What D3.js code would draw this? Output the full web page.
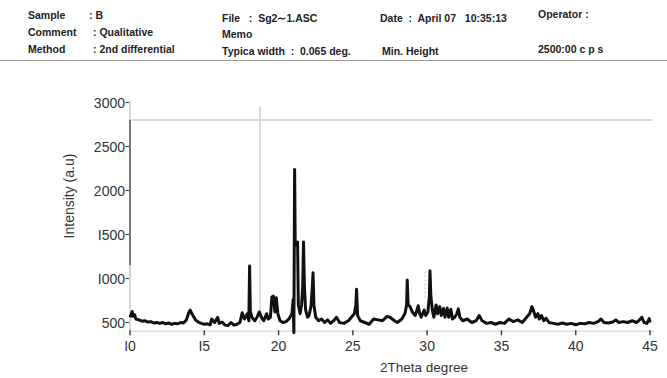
<!DOCTYPE html>
<html lang="en">
<head>
    <title>XRD pattern - Sample B</title>
    <style>
        body, html { margin: 0; height: 100%; overflow: hidden; background: #fff; }
        svg { display: block; }
        .hdr { font: bold 10.5px "Liberation Sans", Arial, sans-serif; fill: #222; }
        .tick-label { font: 14px "Liberation Sans", Arial, sans-serif; fill: #333; }
        .axis-title { font: 14px "Liberation Sans", Arial, sans-serif; fill: #333; }
    </style>
    <script src="https://d3js.org/d3.v7.min.js"></script>
</head>
<body>
    <svg></svg>

    <script>
        // header block: [text, x, y]
        const headerText = [
            ["Sample", 28, 19], [": B", 89, 19],
            ["Comment", 28, 36], [": Qualitative", 93, 36],
            ["Method", 28, 53], [": 2nd differential", 93, 53],
            ["File   :  Sg2\u223C1.ASC", 222, 22],
            ["Memo", 222, 38],
            ["Typica width  :  0.065 deg.", 222, 55],
            ["Date  :  April 07   10:35:13", 380, 22],
            ["Min. Height", 382, 55],
            ["Operator :", 538, 18],
            ["2500:00 c p s", 538, 53]
        ];

        // axis ticks
        const xTicks = [10, 15, 20, 25, 30, 35, 40, 45];
        const xTickLabels = ["I0", "I5", "20", "25", "30", "35", "40", "45"];
        const yTicks = [500, 1000, 1500, 2000, 2500, 3000];
        const yTickLabels = ["500", "I000", "I500", "2000", "2500", "3000"];

        // reference guides drawn on the chart
        const hGuide = 2800;            // horizontal grey line
        const vGuide = [18.75, 2960];   // vertical grey line (2theta, top)
        const dashGuide = [29.86, 760, 1080];
        const startMark = [10, 2800, 1150];

        const theta = [
            10.0, 10.1, 10.15, 10.2, 10.3, 10.4, 10.6, 10.8, 11.0, 11.2, 11.4, 11.6, 11.8, 12.0, 12.2, 12.4, 12.6, 12.8,
            13.0, 13.2, 13.4, 13.6, 13.8, 13.95, 14.05, 14.2, 14.4, 14.6, 14.8, 15.0, 15.2, 15.4, 15.5, 15.7, 15.9, 16.0,
            16.2, 16.4, 16.6, 16.8, 17.0, 17.2, 17.4, 17.55, 17.7, 17.9, 18.0, 18.05, 18.1, 18.2, 18.4, 18.55, 18.7, 18.85,
            19.0, 19.2, 19.3, 19.45, 19.55, 19.65, 19.75, 19.85, 19.95, 20.1, 20.3, 20.5, 20.7, 20.9, 20.98, 21.03, 21.08,
            21.12, 21.2, 21.28, 21.33, 21.45, 21.55, 21.62, 21.68, 21.74, 21.82, 21.95, 22.05, 22.18, 22.27, 22.32, 22.38,
            22.5, 22.7, 22.9, 23.1, 23.3, 23.5, 23.7, 23.9, 24.1, 24.4, 24.7, 24.9, 25.1, 25.2, 25.25, 25.32, 25.5, 25.8,
            26.1, 26.4, 26.7, 27.0, 27.3, 27.5, 27.8, 28.0, 28.3, 28.5, 28.62, 28.66, 28.72, 28.85, 29.0, 29.2, 29.4,
            29.5, 29.6, 29.8, 29.9, 30.05, 30.15, 30.19, 30.25, 30.35, 30.45, 30.6, 30.7, 30.85, 30.95, 31.1, 31.2,
            31.35, 31.45, 31.6, 31.7, 31.85, 32.0, 32.1, 32.2, 32.4, 32.7, 33.0, 33.3, 33.5, 33.7, 34.0, 34.3, 34.6,
            34.9, 35.2, 35.5, 35.8, 36.1, 36.4, 36.7, 36.9, 37.05, 37.15, 37.3, 37.45, 37.55, 37.7, 37.85, 38.0, 38.2,
            38.5, 38.8, 39.1, 39.4, 39.7, 40.0, 40.3, 40.6, 40.9, 41.2, 41.5, 41.7, 41.9, 42.2, 42.5, 42.7, 42.9, 43.2,
            43.5, 43.8, 44.1, 44.3, 44.45, 44.6, 44.8, 44.95, 45.0
        ];
        const intensity = [
            560, 600, 625, 570, 590, 540, 530, 515, 520, 505, 510, 495, 500, 490, 500, 485, 495, 480,
            490, 485, 500, 495, 530, 610, 640, 590, 530, 505, 490, 480, 485, 475, 540, 500, 560, 490,
            505, 470, 465, 500, 470, 480, 500, 610, 540, 600, 520, 1143, 630, 560, 520, 560, 620, 560,
            520, 600, 540, 560, 790, 800, 620, 780, 600, 520, 500, 510, 540, 600, 760, 384, 2240,
            1400, 1380, 1414, 700, 600, 700, 900, 1414, 900, 640, 560, 580, 680, 900, 1064, 700,
            560, 520, 540, 500, 530, 490, 520, 560, 500, 490, 520, 560, 600, 700, 877, 580, 520, 500,
            480, 540, 530, 520, 570, 560, 520, 500, 540, 600, 700, 982, 700, 680, 620, 580, 690,
            600, 560, 640, 580, 620, 800, 1087, 800, 640, 560, 700, 600, 680, 580, 660, 560,
            665, 560, 650, 540, 560, 600, 655, 560, 520, 540, 500, 520, 580, 520, 490, 500, 480,
            500, 490, 540, 510, 530, 500, 560, 600, 680, 640, 560, 600, 540, 580, 520, 550, 500,
            490, 480, 495, 480, 490, 475, 490, 485, 500, 490, 510, 540, 500, 495, 505, 530, 500, 510,
            500, 520, 500, 530, 560, 500, 490, 545, 500
        ];

        const W = 667, H = 378;
        const svg = d3.select("svg").attr("width", W).attr("height", H);

        // header
        svg.selectAll("text.hdr")
            .data(headerText)
            .join("text")
            .attr("class", "hdr")
            .attr("x", d => d[1])
            .attr("y", d => d[2])
            .attr("xml:space", "preserve")
            .style("white-space", "pre")
            .text(d => d[0]);

        svg.append("line")
            .attr("x1", 0).attr("x2", W)
            .attr("y1", 60.5).attr("y2", 60.5)
            .attr("stroke", "#9a9a9a")
            .attr("stroke-width", 1.2);

        const x = d3.scaleLinear().domain([10, 45]).range([130, 650]);
        const y = d3.scaleLinear().domain([400, 3000]).range([331.3, 102.5]);

        // guides
        svg.append("line")
            .attr("x1", x(10)).attr("x2", x(45.2))
            .attr("y1", y(hGuide)).attr("y2", y(hGuide))
            .attr("stroke", "#dcdcdc").attr("stroke-width", 2);

        svg.append("line")
            .attr("x1", x(vGuide[0])).attr("x2", x(vGuide[0]))
            .attr("y1", y(vGuide[1])).attr("y2", y(480))
            .attr("stroke", "#cfcfcf").attr("stroke-width", 1.5);

        svg.append("line")
            .attr("x1", x(dashGuide[0])).attr("x2", x(dashGuide[0]))
            .attr("y1", y(dashGuide[2])).attr("y2", y(dashGuide[1]))
            .attr("stroke", "#bbb").attr("stroke-width", 1)
            .attr("stroke-dasharray", "2,2");

        // axes lines
        svg.append("line")
            .attr("x1", x(10)).attr("x2", x(10))
            .attr("y1", y(3000) - 2).attr("y2", y(400))
            .attr("stroke", "#c8c8c8").attr("stroke-width", 1.5);

        svg.append("line")
            .attr("x1", x(10)).attr("x2", x(45) + 4)
            .attr("y1", y(400)).attr("y2", y(400))
            .attr("stroke", "#e0e0e0").attr("stroke-width", 1.5);

        svg.append("line")
            .attr("x1", x(startMark[0])).attr("x2", x(startMark[0]))
            .attr("y1", y(startMark[1])).attr("y2", y(startMark[2]))
            .attr("stroke", "#777").attr("stroke-width", 2);

        // y ticks
        svg.selectAll("line.ytick")
            .data(yTicks)
            .join("line")
            .attr("class", "ytick")
            .attr("x1", x(10) - 4.5).attr("x2", x(10) - 1)
            .attr("y1", d => y(d)).attr("y2", d => y(d))
            .attr("stroke", "#444").attr("stroke-width", 1.2);

        svg.selectAll("text.ylab")
            .data(yTicks)
            .join("text")
            .attr("class", "tick-label ylab")
            .attr("x", x(10) - 5)
            .attr("y", d => y(d) + 5)
            .attr("text-anchor", "end")
            .text((d, i) => yTickLabels[i]);

        // x ticks
        svg.selectAll("line.xtick")
            .data(xTicks)
            .join("line")
            .attr("class", "xtick")
            .attr("x1", d => x(d)).attr("x2", d => x(d))
            .attr("y1", y(400) - 1).attr("y2", y(400) + 4)
            .attr("stroke", "#444").attr("stroke-width", 1.5);

        svg.selectAll("text.xlab")
            .data(xTicks)
            .join("text")
            .attr("class", "tick-label xlab")
            .attr("x", d => x(d))
            .attr("y", 351)
            .attr("text-anchor", "middle")
            .text((d, i) => xTickLabels[i]);

        // axis titles
        svg.append("text")
            .attr("class", "axis-title")
            .attr("transform", "translate(74,196) rotate(-90)")
            .attr("text-anchor", "middle")
            .text("Intensity (a.u)");

        svg.append("text")
            .attr("class", "axis-title")
            .attr("x", 424)
            .attr("y", 372)
            .attr("text-anchor", "middle")
            .style("font-size", "13.5px")
            .text("2Theta degree");

        // the pattern
        const pts = theta.map((t, i) => [t, intensity[i]]);
        const line = d3.line()
            .x(d => x(d[0]))
            .y(d => y(d[1]));

        svg.append("path")
            .datum(pts)
            .attr("fill", "none")
            .attr("stroke", "#111")
            .attr("stroke-width", 3)
            .attr("stroke-linejoin", "round")
            .attr("d", line);
    </script>
</body>
</html>
